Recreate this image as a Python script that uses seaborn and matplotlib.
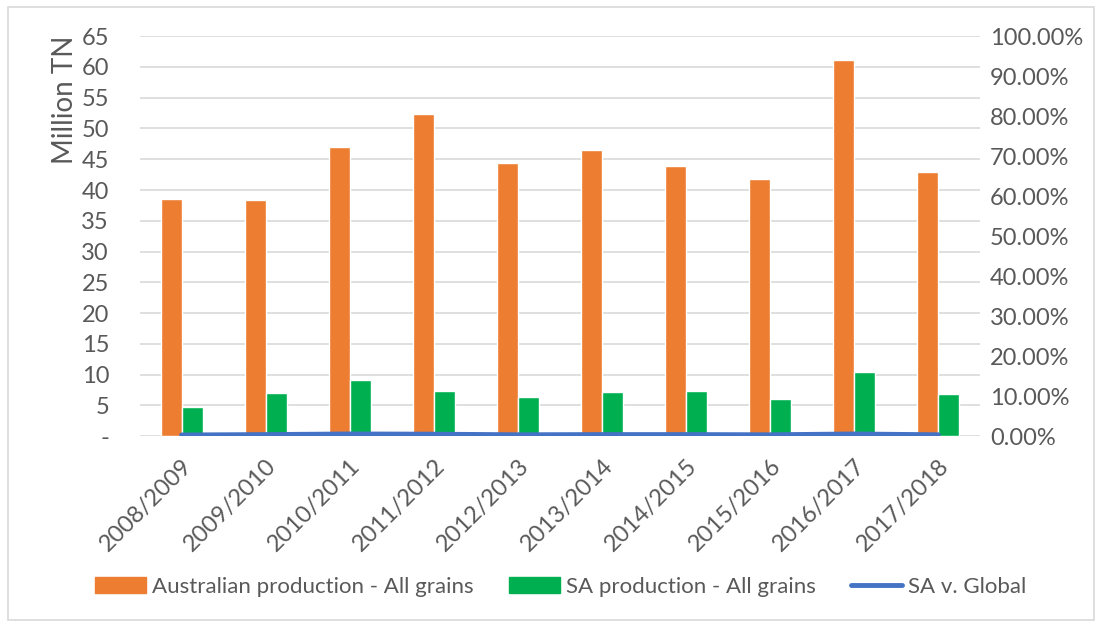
import numpy as np
import pandas as pd
import seaborn as sns
import matplotlib.pyplot as plt
from matplotlib.lines import Line2D
from matplotlib.patches import Rectangle, Patch
from matplotlib.ticker import FuncFormatter

# Data
seasons = ['2008/2009', '2009/2010', '2010/2011', '2011/2012', '2012/2013',
           '2013/2014', '2014/2015', '2015/2016', '2016/2017', '2017/2018']
aus_production = [38.5, 38.4, 47.0, 52.3, 44.4, 46.5, 43.9, 41.8, 61.1, 42.9]
sa_production = [4.8, 7.0, 9.2, 7.3, 6.3, 7.1, 7.3, 6.0, 10.5, 6.8]
sa_share = [0.0030, 0.0040, 0.0055, 0.0050, 0.0035, 0.0040, 0.0040, 0.0035, 0.0055, 0.0035]

series_names = ['Australian production - All grains', 'SA production - All grains']
line_name = 'SA v. Global'

orange = '#ED7D31'
green = '#00B050'
blue = '#4472C4'
text_grey = '#595959'
grid_grey = '#D9D9D9'

df = pd.DataFrame({
    'season': seasons * 2,
    'series': [series_names[0]] * len(seasons) + [series_names[1]] * len(seasons),
    'value': aus_production + sa_production,
})

sns.set_style('white')
plt.rcParams['font.family'] = ['Lato', 'DejaVu Sans']

fig = plt.figure(figsize=(10.99, 6.24), dpi=100)
ax = fig.add_axes([0.127, 0.301, 0.765, 0.641])

sns.barplot(data=df, x='season', y='value', hue='series',
            palette=[orange, green], width=0.5, saturation=1,
            errorbar=None, ax=ax)

ax.set_ylim(0, 65)
ax.set_yticks(np.arange(0, 66, 5))
ax.yaxis.set_major_formatter(FuncFormatter(lambda v, p: '-' if v == 0 else f'{v:.0f}'))
ax.grid(axis='y', color=grid_grey, linewidth=1.2)
ax.set_axisbelow(True)
for s in ax.spines.values():
    s.set_visible(False)
ax.tick_params(axis='both', length=0, colors=text_grey, labelsize=17)
ax.tick_params(axis='y', pad=22)
ax.set_xlabel('')
ax.set_ylabel('Million TN', color=text_grey, fontsize=20)
ax.yaxis.set_label_coords(-0.073, 0.84)
ax.set_xlim(-0.5, len(seasons) - 0.5)
for lbl in ax.get_xticklabels():
    lbl.set_rotation(45)
    lbl.set_ha('right')
    lbl.set_rotation_mode('anchor')
ax.tick_params(axis='x', pad=14)
ax.get_legend().remove()

ax2 = ax.twinx()
sns.lineplot(x=np.arange(len(seasons)), y=sa_share, color=blue,
             linewidth=3.5, ax=ax2)
ax2.set_ylim(0, 1.0)
ax2.set_yticks(np.arange(0, 1.01, 0.1))
ax2.yaxis.set_major_formatter(FuncFormatter(lambda v, p: f'{v * 100:.2f}%'))
for s in ax2.spines.values():
    s.set_visible(False)
ax2.tick_params(axis='y', length=0, colors=text_grey, labelsize=17, pad=7)
ax2.set_ylabel('')
ax2.set_xlim(-0.5, len(seasons) - 0.5)

handles = [Patch(color=orange), Patch(color=green),
           Line2D([], [], color=blue, linewidth=3.5, solid_capstyle='round')]
leg = fig.legend(handles, series_names + [line_name], loc='center',
                 bbox_to_anchor=(0.51, 0.06), ncol=3, frameon=False,
                 handlelength=2.3, handleheight=0.7, handletextpad=0.25,
                 columnspacing=1.6, fontsize=16)
for t in leg.get_texts():
    t.set_color(text_grey)

# chart area border
fig.patches.append(Rectangle((0.007, 0.006), 0.988, 0.982, transform=fig.transFigure,
                             fill=False, edgecolor=grid_grey, linewidth=1.2))

fig.savefig('out.png', dpi=100)
